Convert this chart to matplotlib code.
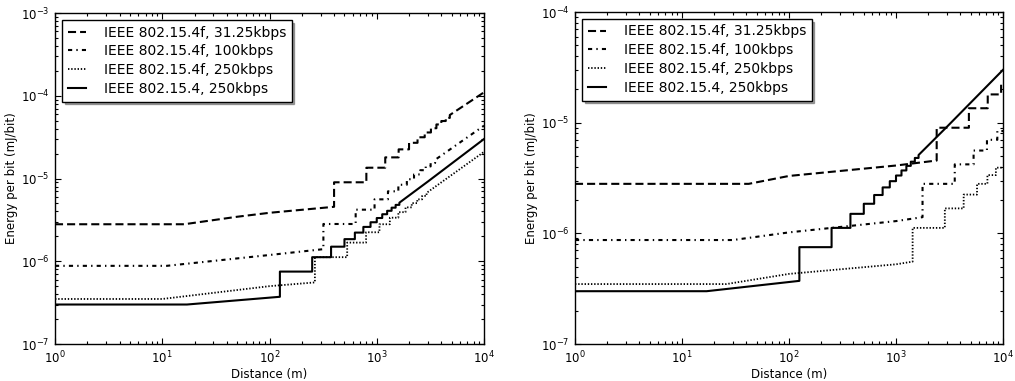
import matplotlib
matplotlib.use("Agg")
import matplotlib.pyplot as plt
from matplotlib.ticker import LogLocator, NullFormatter

labels = ["IEEE 802.15.4f, 31.25kbps", "IEEE 802.15.4f, 100kbps",
          "IEEE 802.15.4f, 250kbps", "IEEE 802.15.4, 250kbps"]

# Each curve: single-hop part (head), hop-count plateaus (hop_x = where a new
# hop is needed, hop_y = energy on that plateau), then a smooth tail.

# IEEE 802.15.4 at 250kbps, identical on both panels
std_head_x = [1, 17, 125]
std_head_y = [3.0e-7, 3.0e-7, 3.72e-7]
std_hop_x = [125, 250, 375, 500, 625, 750, 875, 1000, 1125, 1250, 1375, 1500]
std_hop_y = [7.5e-7, 1.12e-6, 1.5e-6, 1.85e-6, 2.22e-6, 2.6e-6, 2.96e-6,
             3.33e-6, 3.7e-6, 4.07e-6, 4.44e-6, 4.8e-6]
std_tail_x = [1625, 3000, 10000]
std_tail_y = [5.1e-6, 9.2e-6, 3.0e-5]

# left panel
l31_head_x = [1, 16, 50, 100, 400]
l31_head_y = [2.8e-6, 2.8e-6, 3.45e-6, 3.85e-6, 4.55e-6]
l31_hop_x = [400, 800, 1200, 1600, 2000, 2400, 2800, 3200, 3600, 4000, 4400]
l31_hop_y = [9.0e-6, 1.35e-5, 1.8e-5, 2.25e-5, 2.7e-5, 3.15e-5, 3.6e-5,
             4.05e-5, 4.5e-5, 4.95e-5, 5.4e-5]
l31_tail_x = [4800, 10000]
l31_tail_y = [5.85e-5, 1.1e-4]

l100_head_x = [1, 11, 100, 318]
l100_head_y = [8.8e-7, 8.8e-7, 1.19e-6, 1.4e-6]
l100_hop_x = [318, 636, 954, 1272, 1590, 1908, 2226, 2544, 2862, 3180]
l100_hop_y = [2.82e-6, 4.2e-6, 5.6e-6, 7.0e-6, 8.4e-6, 9.8e-6, 1.12e-5,
              1.26e-5, 1.4e-5, 1.54e-5]
l100_tail_x = [3498, 10000]
l100_tail_y = [1.68e-5, 4.35e-5]

l250_head_x = [1, 10, 100, 265]
l250_head_y = [3.5e-7, 3.5e-7, 5.0e-7, 5.55e-7]
l250_hop_x = [265, 530, 795, 1060, 1325, 1590, 1855, 2120, 2385, 2650]
l250_hop_y = [1.12e-6, 1.68e-6, 2.24e-6, 2.8e-6, 3.36e-6, 3.92e-6, 4.48e-6,
              5.04e-6, 5.6e-6, 6.16e-6]
l250_tail_x = [2915, 10000]
l250_tail_y = [6.7e-6, 2.1e-5]

# right panel
r31_head_x = [1, 42, 100, 1000, 2400]
r31_head_y = [2.8e-6, 2.8e-6, 3.3e-6, 4.1e-6, 4.55e-6]
r31_hop_x = [2400, 4800, 7200, 9600]
r31_hop_y = [9.0e-6, 1.35e-5, 1.8e-5, 2.25e-5]

r100_head_x = [1, 30, 100, 1000, 1770]
r100_head_y = [8.7e-7, 8.7e-7, 1.02e-6, 1.29e-6, 1.4e-6]
r100_hop_x = [1770, 3540, 5310, 7080, 8850]
r100_hop_y = [2.8e-6, 4.2e-6, 5.6e-6, 7.0e-6, 8.4e-6]

r250_head_x = [1, 26, 100, 1000, 1430]
r250_head_y = [3.48e-7, 3.48e-7, 4.3e-7, 5.25e-7, 5.55e-7]
r250_hop_x = [1430, 2860, 4290, 5720, 7150, 8580]
r250_hop_y = [1.12e-6, 1.68e-6, 2.24e-6, 2.8e-6, 3.36e-6, 3.92e-6]


def staircase(head_x, head_y, hop_x, hop_y, tail_x=(), tail_y=()):
    xs, ys = list(head_x), list(head_y)
    ends = list(hop_x[1:]) + [tail_x[0] if len(tail_x) else 1e4]
    for x0, x1, y in zip(hop_x, ends, hop_y):
        xs += [x0, x1]
        ys += [y, y]
    xs += list(tail_x)
    ys += list(tail_y)
    return xs, ys


plt.rcParams["font.family"] = "DejaVu Sans"
plt.rcParams["mathtext.default"] = "regular"

LW = 1.5
styles = [
    dict(linestyle=(0, (5.8 / LW, 2.9 / LW)), lw=LW),
    dict(linestyle=(0, (3.0 / LW, 3.0 / LW, 1.0 / LW, 3.0 / LW)), lw=LW),
    dict(linestyle=(0, (1.0 / 1.3, 1.3 / 1.3)), lw=1.3),
    dict(linestyle="-", lw=LW),
]

fig = plt.figure(figsize=(10.15, 3.81), dpi=100)
ax1 = fig.add_axes([55 / 1015, 37 / 381, 429 / 1015, 331 / 381])
ax2 = fig.add_axes([575 / 1015, 37 / 381, 428 / 1015, 332 / 381])

left = [
    staircase(l31_head_x, l31_head_y, l31_hop_x, l31_hop_y, l31_tail_x, l31_tail_y),
    staircase(l100_head_x, l100_head_y, l100_hop_x, l100_hop_y, l100_tail_x, l100_tail_y),
    staircase(l250_head_x, l250_head_y, l250_hop_x, l250_hop_y, l250_tail_x, l250_tail_y),
    staircase(std_head_x, std_head_y, std_hop_x, std_hop_y, std_tail_x, std_tail_y),
]
right = [
    staircase(r31_head_x, r31_head_y, r31_hop_x, r31_hop_y),
    staircase(r100_head_x, r100_head_y, r100_hop_x, r100_hop_y),
    staircase(r250_head_x, r250_head_y, r250_hop_x, r250_hop_y),
    staircase(std_head_x, std_head_y, std_hop_x, std_hop_y, std_tail_x, std_tail_y),
]

for ax, curves, ytop in [(ax1, left, 1e-3), (ax2, right, 1e-4)]:
    for (x, y), lab, st in zip(curves, labels, styles):
        ax.plot(x, y, color="black", label=lab, **st)
    ax.set_xscale("log")
    ax.set_yscale("log")
    ax.set_xlim(1, 1e4)
    ax.set_ylim(1e-7, ytop)
    for axis in (ax.xaxis, ax.yaxis):
        axis.set_major_locator(LogLocator(base=10, numticks=20))
        axis.set_minor_locator(LogLocator(base=10, subs=range(2, 10), numticks=100))
        axis.set_minor_formatter(NullFormatter())
    ax.set_xlabel("Distance (m)", fontsize=8.5, labelpad=1)
    ax.set_ylabel("Energy per bit (mJ/bit)", fontsize=8.5, labelpad=2)
    ax.tick_params(which="both", direction="in", top=True, right=True,
                   labelsize=8.5, width=0.8)
    ax.tick_params(which="major", length=4, pad=4)
    ax.tick_params(which="minor", length=2)
    for sp in ax.spines.values():
        sp.set_linewidth(1.0)
    leg = ax.legend(loc="upper left", fontsize=10, shadow=True, fancybox=False,
                    framealpha=1, edgecolor="black", handlelength=1.3,
                    handletextpad=1.3, labelspacing=0.35, borderpad=0.4,
                    borderaxespad=0.5)
    leg.get_frame().set_linewidth(1.0)

fig.savefig("out.png", dpi=100)
